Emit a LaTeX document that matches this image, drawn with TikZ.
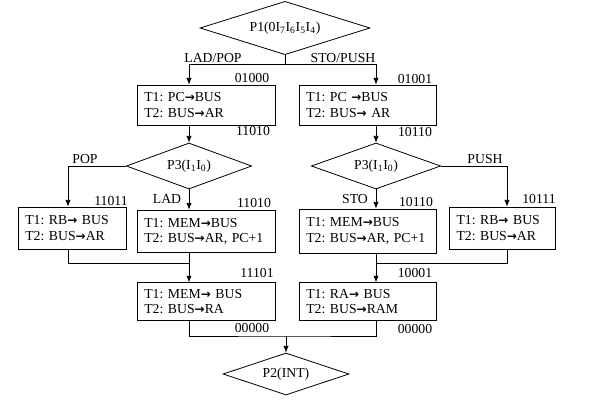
\documentclass[tikz,border=0pt]{standalone}
\usepackage{fontspec}
\setmainfont{Liberation Serif}
\newfontfamily\arrowfont{DejaVu Sans}
\newcommand{\toarr}{{\arrowfont\bfseries\fontsize{9}{10}\selectfont →}}
\usetikzlibrary{arrows.meta,shapes.geometric}
\tikzset{
  ubox/.style={draw, align=left, inner xsep=5.5pt, inner ysep=0pt, text width=#1},
  cond/.style={draw, diamond, aspect=3, inner sep=0pt},
  code/.style={inner sep=1pt},
}

\begin{document}
\begin{tikzpicture}[>={Latex[length=5pt,width=4pt]}, x=0.75pt, y=-0.75pt,
    line width=0.6pt, font=\fontsize{10.3}{11.8}\selectfont\frenchspacing]
  \useasboundingbox (0,0) rectangle (589,401);
  % decisions
  \node[cond, minimum width=127.5pt, minimum height=40pt] (p1) at (285,28)
    {P1(0I\textsubscript{7}I\textsubscript{6}I\textsubscript{5}I\textsubscript{4})};
  \node[cond, minimum width=94pt, minimum height=34.5pt] (p3l) at (189,166) {P3(I\textsubscript{1}I\textsubscript{0})};
  \node[cond, minimum width=97pt, minimum height=34.5pt] (p3r) at (376,166) {P3(I\textsubscript{1}I\textsubscript{0})};
  \node[cond, minimum width=94.5pt, minimum height=31.5pt] (p2) at (286,374) {P2(INT)};
  % row 1: fetch address
  \node[ubox=92.5pt, minimum height=30pt] (b1l) at (206,105) {T1: PC\toarr BUS\\T2: BUS\toarr AR};
  \node[ubox=91.75pt, minimum height=30pt] (b1r) at (367.5,105) {T1: PC \toarr BUS\\T2: BUS\toarr{} AR};
  % row 2
  \node[ubox=70pt, minimum height=31.5pt] (ba) at (72,228) {T1: RB\toarr{} BUS\\T2: BUS\toarr AR};
  \node[ubox=92.5pt, minimum height=32pt] (bb) at (206,231.5) {T1: MEM\toarr BUS\\T2: BUS\toarr AR, PC+1};
  \node[ubox=91.75pt, minimum height=33pt] (bc) at (367.5,231) {T1: MEM\toarr BUS\\T2: BUS\toarr AR, PC+1};
  \node[ubox=69pt, minimum height=31.5pt] (bd) at (502.5,228) {T1: RB\toarr{} BUS\\T2: BUS\toarr AR};
  % row 3
  \node[ubox=92.5pt, minimum height=28pt] (be) at (206,301.5) {T1: MEM\toarr{} BUS\\T2: BUS\toarr RA};
  \node[ubox=91.75pt, minimum height=28pt] (bf) at (367.5,301.5) {T1: RA\toarr{} BUS\\T2: BUS\toarr RAM};
  % labels
  \node[code] (tlp) at (213,58) {LAD/POP};
  \node[code] (tsp) at (343,58) {STO/PUSH};
  \node[code] (c1) at (252,78) {01000};
  \node[code] (c2) at (415,79) {01001};
  \node[code] (c3) at (253,131) {11010};
  \node[code] (c4) at (415,132) {10110};
  \node[code] (tpop) at (85,159) {POP};
  \node[code] (tpush) at (485,159) {PUSH};
  \node[code] (c5) at (111,201) {11011};
  \node[code] (tlad) at (167,199) {LAD};
  \node[code] (c6) at (254,203) {11010};
  \node[code] (tsto) at (355,199) {STO};
  \node[code] (c7) at (416,202) {10110};
  \node[code] (c8) at (539,199) {10111};
  \node[code] (c9) at (257,273) {11101};
  \node[code] (c10) at (415,273) {10001};
  \node[code] (c11) at (252,328) {00000};
  \node[code] (c12) at (415,329) {00000};
  % columns and joints
  \coordinate (xa) at (68,0);
  \coordinate (xl) at (189,0);
  \coordinate (xr) at (376,0);
  \coordinate (xd) at (507,0);
  \coordinate (j1) at (285,64);
  \coordinate (ml) at (189,263);
  \coordinate (mr) at (376,263);
  \coordinate (mb) at (286,336);
  % connectors
  \draw (p1.south) -- (j1);
  \draw[->] (j1) -| (xl |- b1l.north);
  \draw[->] (j1) -| (xr |- b1r.north);
  \draw[->] (xl |- b1l.south) -- (p3l.north);
  \draw[->] (xr |- b1r.south) -- (p3r.north);
  \draw[->] (p3l.west) -| (xa |- ba.north);
  \draw[->] (p3l.south) -- (xl |- bb.north);
  \draw[->] (p3r.south) -- (xr |- bc.north);
  \draw[->] (p3r.east) -| (xd |- bd.north);
  \draw (xa |- ba.south) |- (ml);
  \draw[->] (xl |- bb.south) -- (xl |- be.north);
  \draw (xd |- bd.south) |- (mr);
  \draw[->] (xr |- bc.south) -- (xr |- bf.north);
  \draw (xl |- be.south) |- (mb) -| (xr |- bf.south);
  \draw[->] (mb) -- (p2.north);
\end{tikzpicture}
\end{document}
